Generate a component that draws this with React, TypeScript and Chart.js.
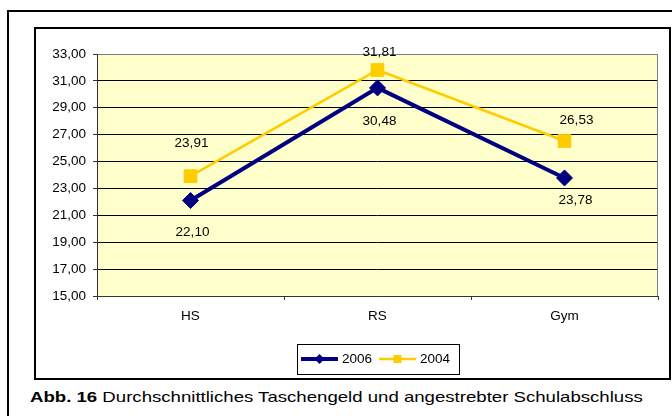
import React, { useEffect, useRef } from 'react';
import { Chart, registerables } from 'chart.js';

Chart.register(...registerables);

const categories = ['HS', 'RS', 'Gym'];
const series2006 = [22.1, 30.48, 23.78];
const series2004 = [23.91, 31.81, 26.53];
const seriesNames = ['2006', '2004'];
const yMin = 15;
const yMax = 33;
const yStep = 2;
const captionBold = 'Abb. 16';
const captionText = ' Durchschnittliches Taschengeld und angestrebter Schulabschluss';

const FONT = "'Liberation Sans', Arial, Helvetica, sans-serif";
const FS = 13.5;
const fmt = (v: number) => v.toFixed(2).replace('.', ',');

// label offsets [dx, dy] per series, per category (styling)
const labelOffsets = [
  [[2, 32], [2, 33], [11, 22]],
  [[1, -33], [2, -18], [12, -21]],
];

const plotBg = {
  id: 'plotBg',
  beforeDraw(chart: any) {
    const { ctx, chartArea: a } = chart;
    ctx.save();
    ctx.fillStyle = '#FFFFCC';
    ctx.fillRect(a.left, a.top, a.right - a.left, a.bottom - a.top);
    ctx.restore();
  },
  beforeDatasetsDraw(chart: any) {
    const { ctx, chartArea: a } = chart;
    ctx.save();
    ctx.lineWidth = 1;
    ctx.strokeStyle = '#808080';
    ctx.strokeRect(a.left + 0.5, a.top + 0.5, a.right - a.left - 1, a.bottom - a.top);
    ctx.strokeStyle = '#333333';
    ctx.beginPath();
    ctx.moveTo(a.left + 0.5, a.top);
    ctx.lineTo(a.left + 0.5, a.bottom + 0.5);
    ctx.lineTo(a.right, a.bottom + 0.5);
    ctx.stroke();
    ctx.restore();
  },
};

const valueLabels = {
  id: 'valueLabels',
  afterDatasetsDraw(chart: any) {
    const { ctx } = chart;
    ctx.save();
    ctx.font = `${FS}px ${FONT}`;
    ctx.fillStyle = '#000';
    ctx.textAlign = 'center';
    ctx.textBaseline = 'middle';
    chart.data.datasets.forEach((ds: any, i: number) => {
      const meta = chart.getDatasetMeta(i);
      meta.data.forEach((pt: any, j: number) => {
        const [dx, dy] = labelOffsets[i][j];
        ctx.fillText(fmt(ds.data[j]), pt.x + dx, pt.y + dy);
      });
    });
    ctx.restore();
  },
};

function drawMarker(ctx: CanvasRenderingContext2D, style: string, x: number, y: number, r: number, color: string) {
  ctx.fillStyle = color;
  ctx.beginPath();
  if (style === 'rectRot') {
    ctx.moveTo(x, y - r);
    ctx.lineTo(x + r, y);
    ctx.lineTo(x, y + r);
    ctx.lineTo(x - r, y);
    ctx.closePath();
  } else {
    ctx.rect(x - r, y - r, 2 * r, 2 * r);
  }
  ctx.fill();
}

const boxLegend = {
  id: 'boxLegend',
  afterDraw(chart: any) {
    const { ctx, chartArea: a } = chart;
    const w = 162;
    const h = 30;
    const x0 = Math.round((a.left + a.right) / 2 - w / 2);
    const y0 = Math.round(a.bottom + 48);
    ctx.save();
    ctx.strokeStyle = '#000';
    ctx.lineWidth = 1;
    ctx.strokeRect(x0 + 0.5, y0 + 0.5, w, h);
    const cy = y0 + 15;
    const starts = [4, 82];
    chart.data.datasets.forEach((ds: any, i: number) => {
      const lx = x0 + starts[i];
      ctx.strokeStyle = ds.borderColor;
      ctx.lineWidth = ds.borderWidth;
      ctx.beginPath();
      ctx.moveTo(lx, cy);
      ctx.lineTo(lx + 37, cy);
      ctx.stroke();
      drawMarker(ctx, ds.pointStyle, lx + 18.5, cy, ds.pointStyle === 'rectRot' ? 5 : 4, ds.borderColor);
      ctx.fillStyle = '#000';
      ctx.font = `${FS}px ${FONT}`;
      ctx.textAlign = 'left';
      ctx.textBaseline = 'middle';
      ctx.fillText(ds.label, lx + 41, cy);
    });
    ctx.restore();
  },
};

function ChartBox() {
  const ref = useRef<HTMLCanvasElement | null>(null);
  useEffect(() => {
    if (!ref.current) return;
    const chart = new Chart(ref.current, {
      type: 'line',
      data: {
        labels: categories,
        datasets: [
          {
            label: seriesNames[0],
            data: series2006,
            borderColor: '#000080',
            backgroundColor: '#000080',
            borderWidth: 4,
            pointStyle: 'rectRot',
            pointRadius: 8,
            pointBorderWidth: 1,
            pointBackgroundColor: '#000080',
            pointBorderColor: '#000080',
            tension: 0,
          },
          {
            label: seriesNames[1],
            data: series2004,
            borderColor: '#FFCC00',
            backgroundColor: '#FFCC00',
            borderWidth: 2.5,
            pointStyle: 'rect',
            pointRadius: 9,
            pointBorderWidth: 1,
            pointBackgroundColor: '#FFCC00',
            pointBorderColor: '#FFCC00',
            tension: 0,
          },
        ],
      },
      options: {
        animation: false,
        responsive: false,
        devicePixelRatio: 1,
        layout: { padding: { top: 25, right: 10, left: 0, bottom: 0 } },
        plugins: { legend: { display: false }, tooltip: { enabled: false } },
        scales: {
          x: {
            type: 'category',
            offset: true,
            grid: { display: true, drawOnChartArea: false, tickLength: 4, color: '#333333', offset: true },
            border: { display: false },
            ticks: { color: '#000', font: { family: FONT, size: FS }, padding: 8, maxRotation: 0 },
            afterFit(s: any) { s.height = 81; },
          },
          y: {
            min: yMin,
            max: yMax,
            grid: {
              color: (c: any) => (c.tick && c.tick.value === yMax ? '#808080' : '#000000'),
              tickColor: '#333333',
              tickLength: 4,
            },
            border: { display: false },
            ticks: {
              stepSize: yStep,
              color: '#000',
              font: { family: FONT, size: FS },
              padding: 7,
              callback: (v: any) => fmt(Number(v)),
            },
            afterFit(s: any) { s.width = 61; },
          },
        },
      },
      plugins: [plotBg, valueLabels, boxLegend],
    } as any);
    return () => chart.destroy();
  }, []);
  return (
    <canvas
      ref={ref}
      width={632}
      height={348}
      style={{ position: 'absolute', left: 36, top: 29, width: 632, height: 348 }}
    />
  );
}

export default function App() {
  return (
    <div style={{ position: 'fixed', left: 0, top: 0, width: 672, height: 416, overflow: 'hidden', background: '#fff', fontFamily: FONT }}>
      <div style={{ position: 'absolute', left: 7, top: 10, width: 700, height: 450, border: '2px solid #000', boxSizing: 'border-box' }} />
      <div style={{ position: 'absolute', left: 34, top: 27, width: 637, height: 353, border: '2px solid #000', boxSizing: 'border-box' }} />
      <ChartBox />
      <div
        style={{
          position: 'absolute',
          left: 30,
          top: 389,
          fontSize: 15,
          lineHeight: '15px',
          whiteSpace: 'nowrap',
          color: '#000',
          transformOrigin: 'left top',
          transform: 'scaleX(1.24)',
        }}
      >
        <b>{captionBold}</b>
        {captionText}
      </div>
    </div>
  );
}
